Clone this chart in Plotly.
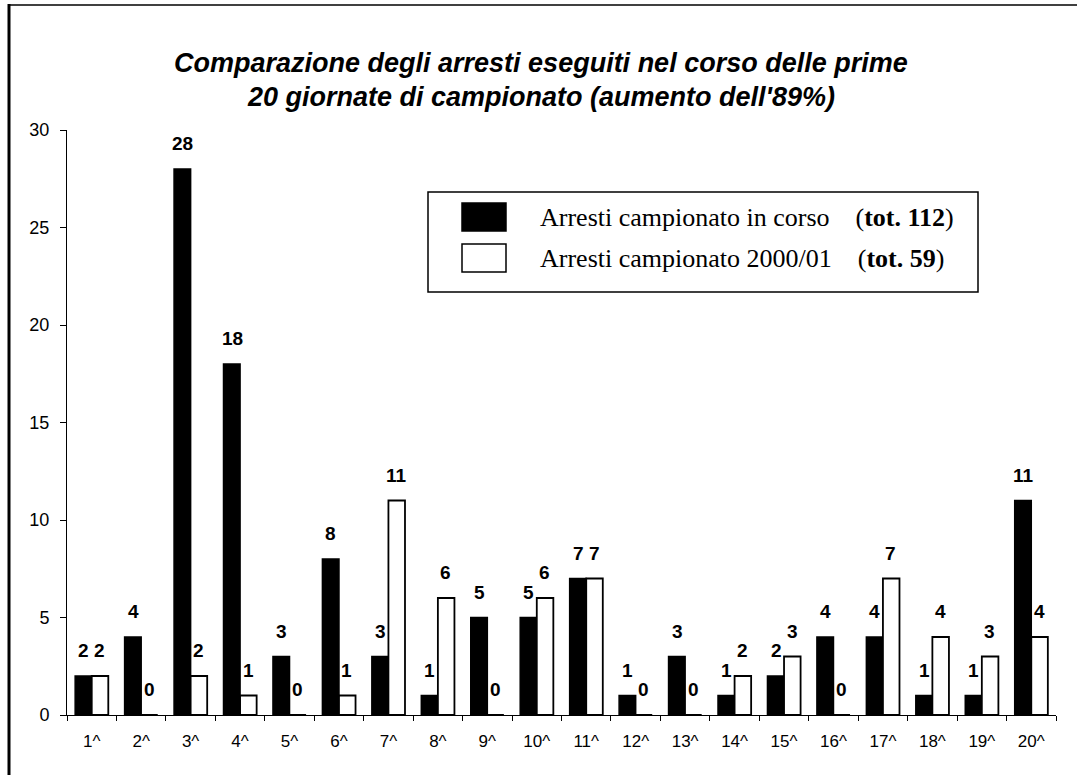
import plotly.graph_objects as go

categories = [f"{i}^" for i in range(1, 21)]
arresti_in_corso = [2, 4, 28, 18, 3, 8, 3, 1, 5, 5, 7, 1, 3, 1, 2, 4, 4, 1, 1, 11]
arresti_2000_01 = [2, 0, 2, 1, 0, 1, 11, 6, 0, 6, 7, 0, 0, 2, 3, 0, 7, 4, 3, 4]
series_names = ["Arresti campionato in corso", "Arresti campionato 2000/01"]
series_totals = ["tot. 112", "tot. 59"]
title_lines = ["Comparazione degli arresti eseguiti nel corso delle prime",
               "20 giornate di campionato (aumento dell'89%)"]

W, H = 1077, 775
ML, MR, MT, MB = 67, 21, 130, 60
PW, PH = W - ML - MR, H - MT - MB


def px(x):
    return (x - ML) / PW


def py(y):
    return (H - MB - y) / PH


fig = go.Figure()
fig.add_trace(go.Bar(x=categories, y=arresti_in_corso, name=series_names[0],
                     marker=dict(color="black", line=dict(color="black", width=1.5))))
fig.add_trace(go.Bar(x=categories, y=arresti_2000_01, name=series_names[1],
                     marker=dict(color="white", line=dict(color="black", width=1.8))))

annotations = []
for i, c in enumerate(categories):
    for vals, shift in ((arresti_in_corso, -8), (arresti_2000_01, 8)):
        annotations.append(dict(x=c, y=vals[i], xref="x", yref="y", text=f"<b>{vals[i]}</b>",
                                showarrow=False, xshift=shift, yshift=13, yanchor="bottom",
                                font=dict(family="Arial", size=19, color="black")))

for k, line in enumerate(title_lines):
    annotations.append(dict(x=px(541), y=py(63 + 34 * k), xref="paper", yref="paper",
                            text=f"<b><i>{line}</i></b>", showarrow=False,
                            xanchor="center", yanchor="middle",
                            font=dict(family="Arial", size=27, color="black")))

shapes = [
    # outer frame
    dict(type="line", xref="paper", yref="paper", x0=px(9), x1=px(9), y0=py(4), y1=py(775),
         line=dict(color="black", width=3)),
    dict(type="line", xref="paper", yref="paper", x0=px(9), x1=px(1077), y0=py(5), y1=py(5),
         line=dict(color="black", width=1.5)),
    # legend box
    dict(type="rect", xref="paper", yref="paper", x0=px(428), x1=px(978), y0=py(192), y1=py(292),
         line=dict(color="black", width=1.5), fillcolor="white"),
]
sw_colors = ["black", "white"]
gap = "\u00a0" * 4
for k in range(2):
    yc = 217 + 41 * k
    shapes.append(dict(type="rect", xref="paper", yref="paper", x0=px(462), x1=px(506),
                       y0=py(yc - 14), y1=py(yc + 14), line=dict(color="black", width=1.5),
                       fillcolor=sw_colors[k]))
    annotations.append(dict(x=px(538), y=py(yc), xref="paper", yref="paper",
                            text=f"{series_names[k]}{gap}(<b>{series_totals[k]}</b>)",
                            showarrow=False, xanchor="left", yanchor="middle",
                            font=dict(family="Liberation Serif", size=26, color="black")))

fig.update_layout(
    width=W, height=H,
    margin=dict(l=ML, r=MR, t=MT, b=MB),
    paper_bgcolor="white", plot_bgcolor="white",
    barmode="group", bargap=0.33, bargroupgap=0,
    showlegend=False,
    annotations=annotations, shapes=shapes,
    font=dict(family="Arial", color="black"),
)
fig.update_xaxes(showline=True, linecolor="black", linewidth=1, ticks="outside",
                 tickson="boundaries", ticklen=5, tickcolor="black", ticklabelstandoff=11,
                 tickfont=dict(family="Arial", size=17), showgrid=False)
fig.update_yaxes(range=[0, 30], dtick=5, showline=True, linecolor="black", linewidth=1,
                 ticks="outside", ticklen=6, tickcolor="black", showgrid=False, zeroline=False,
                 ticklabelstandoff=7, tickfont=dict(family="Arial", size=18))

fig.write_html("out.html", config={"displayModeBar": False},
               post_script="document.body.style.margin='0';")
